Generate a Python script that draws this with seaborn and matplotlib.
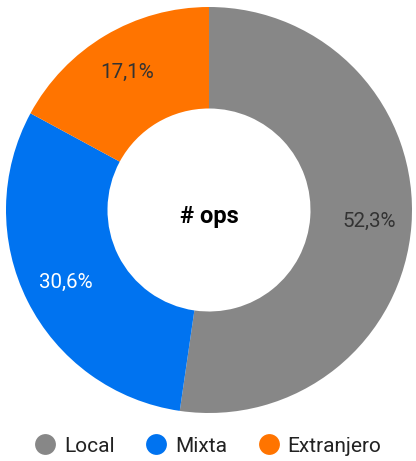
import matplotlib
matplotlib.use('Agg')
import matplotlib.pyplot as plt
import seaborn as sns
import numpy as np
from matplotlib.lines import Line2D

# data
categories = ['Local', 'Mixta', 'Extranjero']
shares = [52.3, 30.6, 17.1]
pct_labels = ['52,3%', '30,6%', '17,1%']
colors = ['#878787', '#0073F0', '#FF7400']
label_colors = ['#333333', 'white', '#333333']

sns.set_theme(style='white')
plt.rcParams['font.family'] = ['Roboto', 'DejaVu Sans']

fig = plt.figure(figsize=(4.16, 4.61), dpi=100)
ax = fig.add_axes([6 / 416, 48 / 461, 406 / 416, 406 / 461])

wedges, _ = ax.pie(shares, colors=sns.color_palette(colors), startangle=90,
                   counterclock=False, radius=1.0,
                   wedgeprops=dict(width=0.5, linewidth=0))

# percentage labels at wedge mid-angles
ang = 90.0
for s, lab, c in zip(shares, pct_labels, label_colors):
    mid = np.deg2rad(ang - s * 3.6 / 2)
    ax.text(0.79 * np.cos(mid), 0.79 * np.sin(mid), lab, ha='center',
            va='center', fontsize=14.8, color=c)
    ang -= s * 3.6

ax.text(0, -0.03, '# ops', ha='center', va='center', fontsize=17,
        fontweight='bold', color='black')
ax.set_xlim(-1, 1)
ax.set_ylim(-1, 1)
ax.set_aspect('equal')
ax.axis('off')

handles = [Line2D([], [], marker='o', linestyle='', markersize=15,
                  markerfacecolor=c, markeredgewidth=0) for c in colors]
fig.legend(handles, categories, loc='center', ncol=3,
           bbox_to_anchor=(0.5, 1 - 446 / 461), frameon=False,
           fontsize=15, handletextpad=0.4, columnspacing=1.5,
           handlelength=1.0, labelcolor='#222222')

fig.savefig('out.png', dpi=100)
